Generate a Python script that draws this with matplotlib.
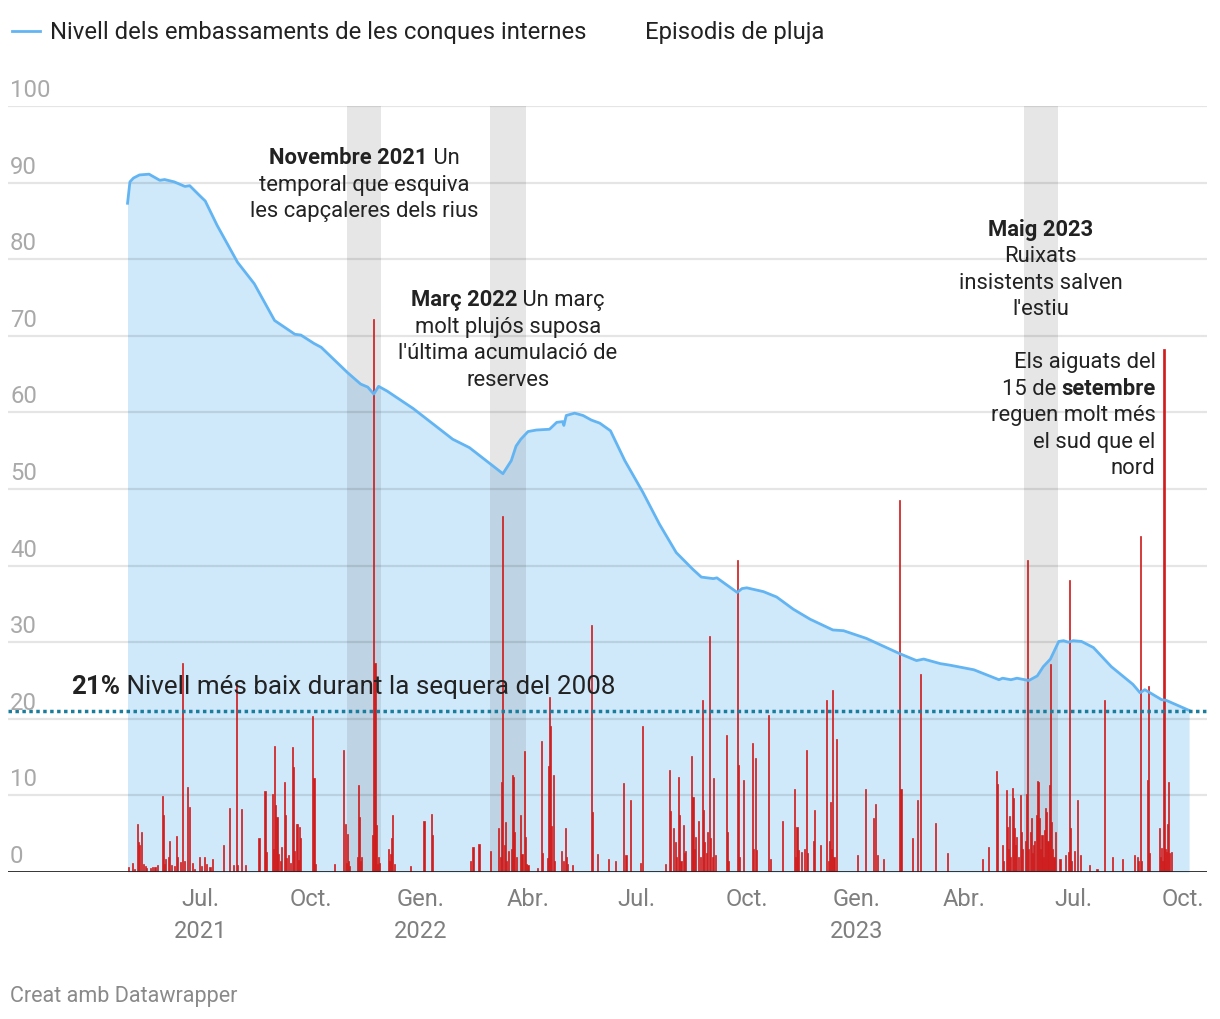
import numpy as np
import matplotlib
matplotlib.use("Agg")
import matplotlib.pyplot as plt
from matplotlib import transforms
from matplotlib.text import Text
from matplotlib.lines import Line2D

FONT = ["Roboto", "DejaVu Sans"]
plt.rcParams["font.family"] = FONT

# ---------------- data ----------------
level_dates = [
    "2021-05-01", "2021-05-03", "2021-05-06", "2021-05-11", "2021-05-19", "2021-05-28",
    "2021-06-01", "2021-06-09", "2021-06-18", "2021-06-22", "2021-07-01", "2021-07-05",
    "2021-07-15", "2021-08-01", "2021-08-15", "2021-09-01", "2021-09-18", "2021-09-23",
    "2021-10-04", "2021-10-10", "2021-11-01", "2021-11-12", "2021-11-18", "2021-11-23",
    "2021-11-27", "2021-12-04", "2021-12-26", "2022-01-28", "2022-02-11", "2022-03-11",
    "2022-03-18", "2022-03-22", "2022-03-26", "2022-04-01", "2022-04-08", "2022-04-19",
    "2022-04-25", "2022-04-30", "2022-05-01", "2022-05-03", "2022-05-10", "2022-05-17",
    "2022-05-24", "2022-05-31", "2022-06-09", "2022-06-21", "2022-07-06", "2022-07-20",
    "2022-08-03", "2022-08-17", "2022-08-24", "2022-09-03", "2022-09-06", "2022-09-23",
    "2022-09-27", "2022-10-01", "2022-10-15", "2022-10-26", "2022-11-09", "2022-11-23",
    "2022-12-12", "2022-12-21", "2023-01-09", "2023-02-06", "2023-02-20", "2023-02-26",
    "2023-03-12", "2023-03-20", "2023-04-09", "2023-04-30", "2023-05-03", "2023-05-10",
    "2023-05-15", "2023-05-25", "2023-06-01", "2023-06-06", "2023-06-12", "2023-06-19",
    "2023-06-23", "2023-06-27", "2023-07-01", "2023-07-08", "2023-07-18", "2023-08-02",
    "2023-08-20", "2023-08-26", "2023-08-30", "2023-09-13", "2023-09-17", "2023-10-06",
]
level_pct = [
    87.3, 90.1, 90.6, 91.0, 91.1, 90.3,
    90.4, 90.1, 89.5, 89.6, 88.2, 87.6,
    84.4, 79.6, 76.8, 72.0, 70.2, 70.1,
    69.0, 68.5, 65.2, 63.7, 63.3, 62.4,
    63.4, 62.8, 60.5, 56.5, 55.4, 52.0,
    53.7, 55.6, 56.5, 57.5, 57.7, 57.8,
    58.7, 58.8, 58.3, 59.6, 59.9, 59.6,
    59.0, 58.6, 57.6, 53.7, 49.6, 45.4,
    41.7, 39.5, 38.5, 38.3, 38.4, 36.5,
    37.0, 37.1, 36.6, 35.9, 34.3, 33.0,
    31.6, 31.5, 30.5, 28.5, 27.6, 27.8,
    27.2, 27.0, 26.4, 25.1, 25.3, 25.1,
    25.3, 25.0, 25.6, 26.8, 27.8, 30.1,
    30.2, 30.0, 30.2, 30.1, 29.3, 26.8,
    24.5, 23.4, 23.8, 22.5, 22.4, 21.1,
]

rain_dates = [
    "2021-05-02", "2021-05-07", "2021-05-09", "2021-05-10", "2021-05-11", "2021-05-13",
    "2021-05-14", "2021-05-17", "2021-05-20", "2021-05-24", "2021-05-26", "2021-05-30",
    "2021-05-31", "2021-06-02", "2021-06-04", "2021-06-05", "2021-06-07", "2021-06-11",
    "2021-06-14", "2021-06-16", "2021-06-18", "2021-06-20", "2021-06-22", "2021-06-26",
    "2021-06-30", "2021-07-04", "2021-07-06", "2021-07-09", "2021-07-11", "2021-07-20",
    "2021-07-25", "2021-07-29", "2021-07-31", "2021-08-01", "2021-08-04", "2021-08-08",
    "2021-08-19", "2021-08-24", "2021-08-30", "2021-09-01", "2021-09-02", "2021-09-03",
    "2021-09-06", "2021-09-09", "2021-09-10", "2021-09-13", "2021-09-16", "2021-09-17",
    "2021-09-19", "2021-09-20", "2021-09-22", "2021-09-23", "2021-10-03", "2021-10-04",
    "2021-10-21", "2021-10-29", "2021-10-30", "2021-11-01", "2021-11-02", "2021-11-10",
    "2021-11-11", "2021-11-13", "2021-11-22", "2021-11-23", "2021-11-24", "2021-11-25",
    "2021-11-27", "2021-12-05", "2021-12-08", "2021-12-09", "2021-12-24", "2022-01-04",
    "2022-01-10", "2022-01-11", "2022-02-12", "2022-02-14", "2022-02-19", "2022-03-01",
    "2022-03-07", "2022-03-10", "2022-03-11", "2022-03-13", "2022-03-16", "2022-03-19",
    "2022-03-20", "2022-03-22", "2022-03-26", "2022-03-29", "2022-03-30", "2022-04-01",
    "2022-04-09", "2022-04-12", "2022-04-18", "2022-04-19", "2022-04-20", "2022-04-22",
    "2022-04-29", "2022-05-02", "2022-05-03", "2022-05-08", "2022-05-24", "2022-05-25",
    "2022-05-29", "2022-06-07", "2022-06-13", "2022-06-20", "2022-06-22", "2022-06-26",
    "2022-07-04", "2022-07-06", "2022-07-25", "2022-07-28", "2022-07-29", "2022-08-01",
    "2022-08-02", "2022-08-05", "2022-08-06", "2022-08-09", "2022-08-11", "2022-08-16",
    "2022-08-17", "2022-08-19", "2022-08-22", "2022-08-25", "2022-08-26", "2022-08-27",
    "2022-08-29", "2022-08-31", "2022-09-01", "2022-09-03", "2022-09-05", "2022-09-14",
    "2022-09-15", "2022-09-23", "2022-09-24", "2022-09-28", "2022-10-06", "2022-10-08",
    "2022-10-09", "2022-10-19", "2022-10-21", "2022-10-31", "2022-11-10", "2022-11-12",
    "2022-11-13", "2022-11-16", "2022-11-18", "2022-11-20", "2022-11-26", "2022-11-27",
    "2022-12-02", "2022-12-07", "2022-12-09", "2022-12-10", "2022-12-12", "2022-12-15",
    "2023-01-02", "2023-01-08", "2023-01-15", "2023-01-17", "2023-01-18", "2023-01-23",
    "2023-02-06", "2023-02-07", "2023-02-17", "2023-02-21", "2023-02-23", "2023-03-08",
    "2023-03-18", "2023-04-16", "2023-04-21", "2023-04-28", "2023-04-29", "2023-05-03",
    "2023-05-06", "2023-05-07", "2023-05-09", "2023-05-11", "2023-05-12", "2023-05-13",
    "2023-05-15", "2023-05-18", "2023-05-19", "2023-05-23", "2023-05-24", "2023-05-26",
    "2023-05-27", "2023-05-31", "2023-06-01", "2023-06-02", "2023-06-03", "2023-06-05",
    "2023-06-08", "2023-06-09", "2023-06-11", "2023-06-12", "2023-06-13", "2023-06-16",
    "2023-06-20", "2023-06-25", "2023-06-27", "2023-06-28", "2023-06-29", "2023-07-02",
    "2023-07-05", "2023-07-07", "2023-07-15", "2023-07-21", "2023-07-27", "2023-08-03",
    "2023-08-11", "2023-08-21", "2023-08-24", "2023-08-26", "2023-08-27", "2023-09-01",
    "2023-09-02", "2023-09-11", "2023-09-13", "2023-09-15", "2023-09-16", "2023-09-17",
    "2023-09-18", "2023-09-19", "2023-09-21",
]
rain_mm = [
    0.7, 0.4, 6.3, 3.9, 3.5, 5.2,
    1.1, 0.5, 0.5, 0.6, 0.9, 9.9,
    7.4, 1.7, 2.0, 4.1, 0.9, 4.7,
    1.3, 27.3, 1.5, 11.1, 8.5, 0.4,
    1.9, 1.9, 1.1, 0.7, 1.7, 3.5,
    8.3, 0.9, 24.5, 0.9, 8.2, 0.9,
    4.5, 10.6, 10.2, 16.4, 8.7, 7.2,
    1.5, 11.7, 7.4, 2.2, 16.3, 13.7,
    6.3, 6.3, 5.9, 4.4, 20.4, 12.3,
    1.1, 15.9, 6.3, 5.0, 1.5, 11.4,
    7.2, 2.0, 4.8, 72.2, 27.3, 6.2,
    2.0, 3.0, 4.4, 7.4, 0.8, 6.6,
    7.6, 4.8, 1.5, 3.3, 3.7, 2.8,
    5.7, 11.7, 46.5, 6.5, 2.8, 12.7,
    12.4, 2.0, 7.4, 15.8, 4.6, 0.9,
    0.5, 17.1, 13.9, 22.8, 19.1, 12.7,
    2.8, 5.7, 2.0, 0.9, 32.2, 7.8,
    2.4, 1.7, 1.5, 11.6, 2.2, 9.4,
    1.2, 19.0, 1.1, 13.3, 7.9, 5.7,
    3.9, 12.4, 7.4, 6.1, 2.8, 15.1,
    9.8, 4.6, 6.7, 22.5, 8.1, 3.9,
    5.2, 30.8, 4.4, 12.3, 2.2, 17.9,
    5.2, 40.7, 14.0, 12.0, 16.8, 14.9,
    2.9, 20.5, 1.7, 6.6, 10.9, 5.9,
    2.9, 2.6, 3.0, 15.9, 4.0, 8.1,
    3.5, 22.4, 4.1, 9.1, 23.7, 17.4,
    2.2, 10.8, 7.0, 8.9, 2.2, 1.7,
    48.6, 10.9, 4.4, 9.4, 25.9, 6.4,
    2.5, 1.7, 3.3, 13.2, 11.5, 3.5,
    10.7, 5.9, 7.3, 11.0, 9.6, 5.7,
    4.6, 10.0, 5.2, 10.2, 40.7, 5.2,
    7.0, 7.4, 11.9, 11.7, 7.0, 4.8,
    8.3, 7.8, 11.4, 27.2, 6.5, 5.2,
    1.7, 2.2, 2.6, 38.1, 5.7, 2.8,
    9.4, 2.2, 0.9, 0.4, 22.5, 2.0,
    1.7, 2.2, 2.0, 43.9, 1.5, 12.0,
    24.3, 5.8, 3.1, 68.3, 3.0, 2.6,
    6.3, 11.8, 2.6,
]

# light showers (the low red clutter along the baseline)
shower_dates = [
    "2021-05-05", "2021-05-16", "2021-05-22", "2021-06-01", "2021-06-09", "2021-06-12",
    "2021-06-24", "2021-07-02", "2021-08-25", "2021-08-31", "2021-09-04", "2021-09-07",
    "2021-09-11", "2021-09-14", "2021-09-18", "2021-09-21", "2021-10-05", "2021-10-31",
    "2021-11-03", "2021-11-09", "2021-11-12", "2021-11-26", "2021-11-28", "2021-12-06",
    "2021-12-07", "2021-12-10", "2022-03-09", "2022-03-12", "2022-03-14", "2022-03-18",
    "2022-03-21", "2022-03-27", "2022-03-31", "2022-04-13", "2022-04-17", "2022-04-21",
    "2022-04-23", "2022-05-01", "2022-05-04", "2022-08-03", "2022-08-07", "2022-08-10",
    "2022-08-18", "2022-08-23", "2022-08-28", "2022-09-02", "2022-09-16", "2022-09-25",
    "2022-10-07", "2022-11-11", "2022-11-21", "2022-12-08", "2022-12-11", "2022-12-13",
    "2023-05-04", "2023-05-08", "2023-05-10", "2023-05-14", "2023-05-16", "2023-05-20",
    "2023-05-22", "2023-05-25", "2023-05-28", "2023-05-29", "2023-05-30", "2023-06-04",
    "2023-06-06", "2023-06-07", "2023-06-10", "2023-06-14", "2023-06-15", "2023-06-30",
    "2023-08-25", "2023-09-03", "2023-09-12", "2023-09-14", "2023-09-20",
]
shower_mm = [
    1.2, 0.8, 0.6, 1.0, 0.8, 2.0,
    1.2, 0.8, 2.6, 3.0, 2.4, 3.2,
    1.8, 1.2, 2.8, 1.6, 1.0, 1.2,
    0.8, 2.0, 1.5, 1.0, 1.2, 1.5,
    2.3, 1.0, 2.0, 3.5, 1.5, 3.0,
    5.2, 2.4, 1.0, 2.5, 1.8, 6.0,
    1.5, 1.5, 1.0, 2.0, 1.5, 2.5,
    3.0, 2.0, 2.5, 2.0, 1.5, 2.0,
    3.0, 2.0, 2.5, 1.5, 3.0, 2.0,
    1.5, 3.0, 2.0, 3.5, 2.0, 3.0,
    4.0, 3.0, 2.5, 3.5, 4.0, 3.0,
    2.0, 5.5, 4.0, 3.0, 2.0, 1.5,
    1.5, 2.5, 2.0, 1.5, 2.5,
]

episode_start = ["2021-11-01", "2022-02-28", "2023-05-21"]
episode_end = ["2021-11-29", "2022-03-30", "2023-06-18"]

drought_2008 = 21

tick_dates = ["2021-07-01", "2021-10-01", "2022-01-01", "2022-04-01", "2022-07-01",
              "2022-10-01", "2023-01-01", "2023-04-01", "2023-07-01", "2023-10-01"]
tick_labels = ["Jul.\n2021", "Oct.", "Gen.\n2022", "Abr.", "Jul.",
               "Oct.", "Gen.\n2023", "Abr.", "Jul.", "Oct."]
y_ticks = [0, 10, 20, 30, 40, 50, 60, 70, 80, 90, 100]

# ---------------- figure ----------------
W, H = 1220, 1020
fig = plt.figure(figsize=(W / 100, H / 100), dpi=100)
ax = fig.add_axes([8 / W, 147 / H, 1199 / W, 766 / H])

ld = np.array(level_dates, dtype="datetime64[D]")
rd = np.array(rain_dates + shower_dates, dtype="datetime64[D]")
rv = rain_mm + shower_mm

LINE_C = "#62b5f2"
AREA_C = "#cfe8fa"
RED = "#cf1d1d"

ax.fill_between(ld, level_pct, 0, color=AREA_C, lw=0, zorder=1)
for s, e in zip(episode_start, episode_end):
    ax.axvspan(np.datetime64(s), np.datetime64(e), color="#6b6e74", alpha=0.17, lw=0, zorder=2)
for v in y_ticks[1:]:
    ax.axhline(v, color="black", alpha=0.1, lw=1.6, zorder=2.5)
ax.bar(rd, rv, width=0.9, color=RED, edgecolor=RED, linewidth=0.5, zorder=3)
ax.plot(ld, level_pct, color=LINE_C, lw=2.0, zorder=4, solid_joinstyle="round")
ax.axhline(drought_2008, color="#1b7d9c", lw=2.5, ls=(0, (1.0, 1.0)), zorder=5,
           dash_capstyle="butt")
ax.axhline(0, color="#222222", lw=2.0, zorder=6)

ax.set_xlim(np.datetime64("2021-01-21"), np.datetime64("2023-10-21"))
ax.set_ylim(0, 100)
for sp in ax.spines.values():
    sp.set_visible(False)
ax.set_yticks([])
ax.set_xticks(np.array(tick_dates, dtype="datetime64[D]"))
ax.set_xticklabels(tick_labels, color="#7f7f7f", fontsize=17, linespacing=1.5)
ax.tick_params(axis="x", length=0, pad=11)

for v in y_ticks:
    ax.annotate(str(v), xy=(0, v), xycoords=("axes fraction", "data"),
                xytext=(2, 5), textcoords="offset pixels", ha="left", va="bottom",
                color="#a9a9a9", fontsize=17.2, zorder=7)

# ---------------- rich text helper ----------------
renderer = fig.canvas.get_renderer()


def seg_width(txt, bold, fs):
    t = Text(0, 0, txt, fontsize=fs, fontweight="bold" if bold else "normal", family=FONT)
    t.set_figure(fig)
    return t.get_window_extent(renderer).width


def rich(x, y, lines, ha="center", fs=15.8, lsp=26.5, color="#222222"):
    for i, segs in enumerate(lines):
        widths = [seg_width(t, b, fs) for t, b in segs]
        total = sum(widths)
        off = {"center": -total / 2, "left": 0, "right": -total}[ha]
        for (t, b), w in zip(segs, widths):
            tr = transforms.offset_copy(ax.transData, fig=fig, x=off, y=-i * lsp, units="dots")
            ax.text(x, y, t, transform=tr, ha="left", va="baseline", fontsize=fs,
                    fontweight="bold" if b else "normal", color=color, zorder=8)
            off += w


rich(np.datetime64("2021-11-15"), 92.5,
     [[("Novembre 2021", True), (" Un", False)],
      [("temporal que esquiva", False)],
      [("les capçaleres dels rius", False)]])
rich(np.datetime64("2022-03-15"), 74.0,
     [[("Març 2022", True), (" Un març", False)],
      [("molt plujós suposa", False)],
      [("l'última acumulació de", False)],
      [("reserves", False)]])
rich(np.datetime64("2023-06-04"), 83.2,
     [[("Maig 2023", True)],
      [("Ruixats", False)],
      [("insistents salven", False)],
      [("l'estiu", False)]])
rich(np.datetime64("2023-09-08"), 65.9,
     [[("Els aiguats del", False)],
      [("15 de ", False), ("setembre", True)],
      [("reguen molt més", False)],
      [("el sud que el", False)],
      [("nord", False)]], ha="right")
rich(np.datetime64("2021-03-15"), 23.4,
     [[("21%", True), (" Nivell més baix durant la sequera del 2008", False)]],
     ha="left", fs=18.7)

# ---------------- legend & credit ----------------
fig.add_artist(Line2D([12 / W, 40 / W], [1 - 32 / H, 1 - 32 / H], color=LINE_C, lw=2.0))
fig.text(50 / W, 1 - 33 / H, "Nivell dels embassaments de les conques internes",
         ha="left", va="center", fontsize=17.2, color="#222222")
fig.text(645 / W, 1 - 33 / H, "Episodis de pluja", ha="left", va="center",
         fontsize=17.2, color="#222222")
fig.text(10 / W, 1 - 997 / H, "Creat amb Datawrapper", ha="left", va="center",
         fontsize=15.5, color="#8a8a8a")

fig.savefig("out.png", dpi=100, facecolor="white")
